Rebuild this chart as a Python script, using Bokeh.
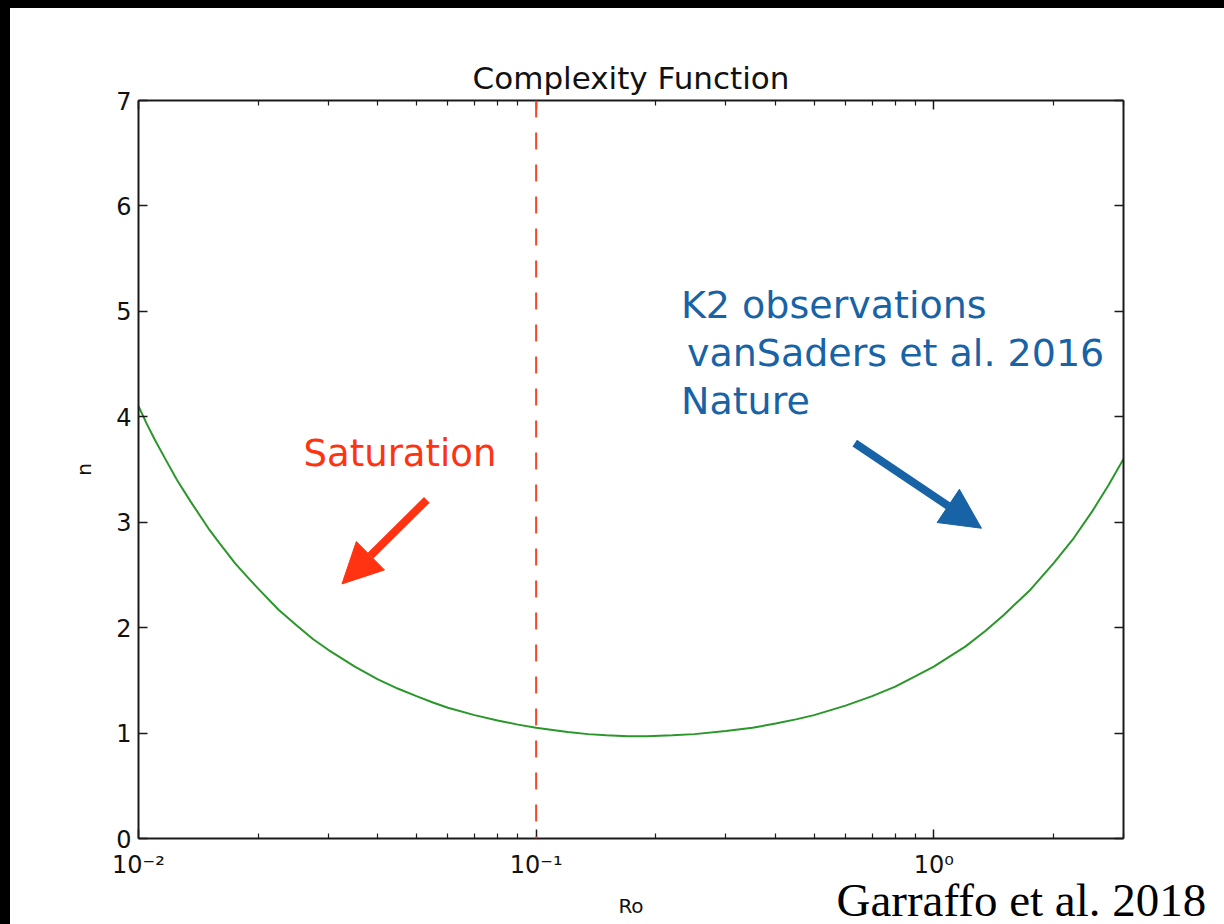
from bokeh.plotting import figure
from bokeh.models import Range1d, FixedTicker, LogAxis, LinearAxis, Span, Label, Arrow, NormalHead, Title
from bokeh.embed import file_html
from bokeh.resources import INLINE

# ---- data ----
ro = [0.01, 0.0105, 0.011, 0.0118, 0.0125, 0.0135, 0.015, 0.016, 0.0175, 0.019, 0.02,
      0.0225, 0.025, 0.0275, 0.03, 0.035, 0.04, 0.045, 0.05, 0.055, 0.06,
      0.07, 0.08, 0.09, 0.1, 0.11, 0.12, 0.135, 0.15, 0.17, 0.19, 0.22, 0.25, 0.3,
      0.35, 0.4, 0.45, 0.5, 0.6, 0.7, 0.8, 0.9, 1.0, 1.1, 1.2, 1.35,
      1.5, 1.75, 2.0, 2.25, 2.5, 2.75, 3.0]
n_vals = [4.10, 3.93, 3.78, 3.57, 3.40, 3.20, 2.94, 2.80, 2.61, 2.46, 2.37,
          2.17, 2.02, 1.89, 1.79, 1.63, 1.51, 1.42, 1.35, 1.29, 1.24,
          1.17, 1.12, 1.08, 1.05, 1.03, 1.01, 0.99, 0.98, 0.97, 0.97, 0.98, 0.99, 1.02,
          1.05, 1.09, 1.13, 1.17, 1.26, 1.35, 1.44, 1.54, 1.63, 1.73, 1.82, 1.97,
          2.12, 2.36, 2.61, 2.85, 3.10, 3.35, 3.60]

x_major = [0.01, 0.1, 1.0]
x_minor = [0.02, 0.03, 0.04, 0.05, 0.06, 0.07, 0.08, 0.09,
           0.2, 0.3, 0.4, 0.5, 0.6, 0.7, 0.8, 0.9, 2.0, 3.0]
x_labels = {0.01: "10\u207b\u00b2", 0.1: "10\u207b\u00b9", 1.0: "10\u2070"}
y_ticks = [0, 1, 2, 3, 4, 5, 6, 7]

saturation_ro = 0.1

title_text = "Complexity Function"
sat_text = "Saturation"
k2_lines = ["K2 observations", "vanSaders et al. 2016", "Nature"]
cite_text = "Garraffo et al. 2018"

GREEN = "#2a972a"
RED = "#ff3311"
RED_DASH = "#f04828"
BLUE = "#1763a6"
AX = "#1a1a1a"

p = figure(frame_width=985, frame_height=738, x_axis_type="log",
           x_range=Range1d(0.01, 3.0), y_range=Range1d(0, 7),
           output_backend="svg", toolbar_location=None,
           min_border_left=128, min_border_right=101, min_border_top=92, min_border_bottom=86)
p.styles = {"border-top": "8px solid black", "border-left": "10px solid black"}
p.background_fill_color = "white"
p.border_fill_color = "white"
p.outline_line_color = None
p.grid.visible = False

p.title.text = title_text
p.title.text_font = "DejaVu Sans"
p.title.text_font_style = "normal"
p.title.text_font_size = "31px"
p.title.align = "center"
p.title.text_color = "#111111"


def style_axis(ax):
    ax.axis_line_color = AX
    ax.axis_line_width = 2
    ax.major_tick_in = 9
    ax.major_tick_out = 0
    ax.minor_tick_in = 5
    ax.minor_tick_out = 0
    ax.major_tick_line_color = AX
    ax.major_tick_line_width = 1.5
    ax.minor_tick_line_color = AX
    ax.minor_tick_line_width = 1.2
    ax.major_label_text_font = "DejaVu Sans"
    ax.major_label_text_font_size = "24px"
    ax.major_label_text_color = "#111111"
    ax.axis_label_text_font = "DejaVu Sans"
    ax.axis_label_text_font_style = "normal"
    ax.axis_label_text_font_size = "20px"
    ax.axis_label_text_color = "#111111"


xa = p.xaxis[0]
xa.ticker = FixedTicker(ticks=x_major, minor_ticks=x_minor)
xa.major_label_overrides = x_labels
xa.axis_label = "Ro"
style_axis(xa)
xa.major_label_standoff = 12
xa.axis_label_standoff = 12

ya = p.yaxis[0]
ya.ticker = FixedTicker(ticks=y_ticks)
ya.axis_label = "n"
style_axis(ya)
ya.major_label_standoff = 7
ya.axis_label_standoff = 17

top = LogAxis(ticker=FixedTicker(ticks=x_major, minor_ticks=x_minor))
style_axis(top)
top.major_label_overrides = {t: "" for t in x_major}
p.add_layout(top, "above")

right = LinearAxis(ticker=FixedTicker(ticks=y_ticks))
style_axis(right)
right.major_label_overrides = {t: "" for t in y_ticks}
p.add_layout(right, "right")

p.line(ro, n_vals, line_color=GREEN, line_width=2)

p.add_layout(Span(location=saturation_ro, dimension="height", line_color=RED_DASH,
                  line_width=2, line_dash="17 15"))

p.add_layout(Label(x=0.026, y=3.655, text=sat_text, text_font="DejaVu Sans",
                   text_font_size="37px", text_color=RED, text_baseline="alphabetic"))

k2_x = [0.2313, 0.2395, 0.2313]
k2_y = [5.065, 4.601, 4.148]
for tx, ty, tt in zip(k2_x, k2_y, k2_lines):
    p.add_layout(Label(x=tx, y=ty, text=tt, text_font="DejaVu Sans",
                       text_font_size="38px", text_color=BLUE, text_baseline="alphabetic"))

p.add_layout(Arrow(x_start=0.0531, y_start=3.212, x_end=0.03249, y_end=2.415,
                   line_color=RED, line_width=8,
                   end=NormalHead(size=40, fill_color=RED, line_color=RED)))
p.add_layout(Arrow(x_start=0.6328, y_start=3.750, x_end=1.318, y_end=2.943,
                   line_color=BLUE, line_width=8,
                   end=NormalHead(size=40, fill_color=BLUE, line_color=BLUE)))

cite = Title(text=cite_text, align="left", vertical_align="top", offset=698, standoff=-94,
             text_font="Liberation Serif", text_font_style="normal",
             text_font_size="47px", text_color="#000000")
p.add_layout(cite, "below")

open("out.html", "w").write(file_html(p, INLINE))
